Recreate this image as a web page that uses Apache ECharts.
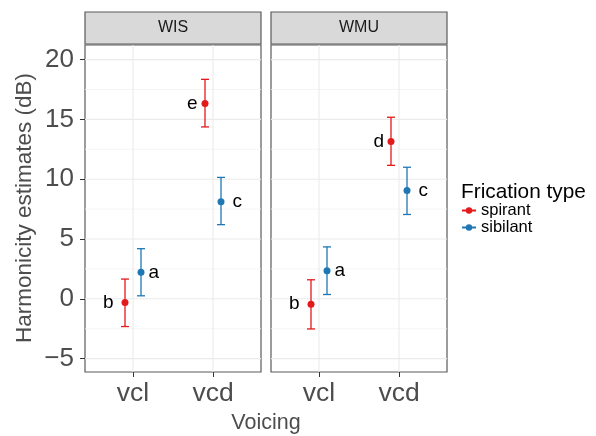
<!DOCTYPE html>
<html>
<head>
<meta charset="utf-8">
<script src="https://cdn.jsdelivr.net/npm/echarts@6/dist/echarts.min.js"></script>
<style>
  html, body { margin: 0; padding: 0; background: #fff; }
  #chart { width: 596px; height: 436px; }
</style>
</head>
<body>
<div id="chart"></div>
<script>
// Harmonicity estimates by voicing and frication type, faceted by group
const panels = ['WIS', 'WMU'];
const voicing = ['vcl', 'vcd'];
const fricationTypes = ['spirant', 'sibilant'];

// Estimates (dB) per voicing category, with lower / upper interval bounds
const wisSpirantMean = [-0.31, 16.33];
const wisSpirantLow = [-2.32, 14.37];
const wisSpirantHigh = [1.65, 18.35];
const wisSibilantMean = [2.21, 8.12];
const wisSibilantLow = [0.25, 6.20];
const wisSibilantHigh = [4.19, 10.15];

const wmuSpirantMean = [-0.45, 13.15];
const wmuSpirantLow = [-2.52, 11.16];
const wmuSpirantHigh = [1.59, 15.18];
const wmuSibilantMean = [2.35, 9.06];
const wmuSibilantLow = [0.36, 7.05];
const wmuSibilantHigh = [4.34, 11.00];

// Group letters from post-hoc comparisons
const wisSpirantLetters = ['b', 'e'];
const wisSibilantLetters = ['a', 'c'];
const wmuSpirantLetters = ['b', 'd'];
const wmuSibilantLetters = ['a', 'c'];

// Axis ticks
const yTicks = [-5, 0, 5, 10, 15, 20];
const yMinorTicks = [-2.5, 2.5, 7.5, 12.5, 17.5];
const xTicks = [1, 2];

const colors = { spirant: '#e31a1c', sibilant: '#1f78b4' };
const dodge = { spirant: -0.1, sibilant: 0.1 };
const letterGap = { a: 4, b: 8, c: 8, d: 3.5, e: 4 };
const FONT = 'Liberation Sans, Arial, sans-serif';
const Y_MIN = -6.12, Y_MAX = 21.22;

const panelData = [
  {
    spirant: { mean: wisSpirantMean, low: wisSpirantLow, high: wisSpirantHigh, letters: wisSpirantLetters },
    sibilant: { mean: wisSibilantMean, low: wisSibilantLow, high: wisSibilantHigh, letters: wisSibilantLetters }
  },
  {
    spirant: { mean: wmuSpirantMean, low: wmuSpirantLow, high: wmuSpirantHigh, letters: wmuSpirantLetters },
    sibilant: { mean: wmuSibilantMean, low: wmuSibilantLow, high: wmuSibilantHigh, letters: wmuSibilantLetters }
  }
];

const gridBoxes = [
  { left: 85, top: 45, width: 176, height: 327 },
  { left: 271, top: 45, width: 176, height: 327 }
];

const minus = v => (v < 0 ? '\u2212' + Math.abs(v) : String(v));

const grids = gridBoxes.map(b => ({
  left: b.left, top: b.top, width: b.width, height: b.height,
  show: true, backgroundColor: '#fff', borderColor: '#5a5a5a', borderWidth: 1.2,
  containLabel: false
}));

const xAxes = panels.map((p, i) => ({
  type: 'value', gridIndex: i, min: 0.4, max: 2.6, position: 'bottom',
  splitLine: { show: false },
  axisLine: { show: false, onZero: false },
  axisTick: { show: true, customValues: xTicks, length: 5, lineStyle: { color: '#333', width: 1 } },
  axisLabel: {
    show: true, customValues: xTicks, margin: 8,
    formatter: v => voicing[Math.round(v) - 1],
    fontSize: 26.5, color: '#4d4d4d', fontFamily: FONT
  }
}));

const yAxes = panels.map((p, i) => ({
  type: 'value', gridIndex: i, min: Y_MIN, max: Y_MAX, position: 'left',
  splitLine: { show: false },
  axisLine: { show: false, onZero: false },
  axisTick: { show: i === 0, customValues: yTicks, length: 5, lineStyle: { color: '#333', width: 1 } },
  axisLabel: {
    show: i === 0, customValues: yTicks, margin: 11,
    formatter: minus, fontSize: 26, color: '#4d4d4d', fontFamily: FONT
  }
}));

const series = [];

panels.forEach((p, i) => {
  // Panel grid lines: major and minor horizontals, major verticals
  series.push({
    type: 'custom', xAxisIndex: i, yAxisIndex: i, z: 1, silent: true,
    data: [[1, 0]],
    renderItem: (params, api) => {
      const cs = params.coordSys;
      const children = [];
      yMinorTicks.forEach(v => {
        const y = api.coord([1, v])[1];
        children.push({ type: 'line', shape: { x1: cs.x, y1: y, x2: cs.x + cs.width, y2: y },
          style: { stroke: '#f2f2f2', lineWidth: 0.8 } });
      });
      yTicks.forEach(v => {
        const y = api.coord([1, v])[1];
        children.push({ type: 'line', shape: { x1: cs.x, y1: y, x2: cs.x + cs.width, y2: y },
          style: { stroke: '#ebebeb', lineWidth: 1.1 } });
      });
      xTicks.forEach(v => {
        const x = api.coord([v, 0])[0];
        children.push({ type: 'line', shape: { x1: x, y1: cs.y, x2: x, y2: cs.y + cs.height },
          style: { stroke: '#ebebeb', lineWidth: 1.1 } });
      });
      return { type: 'group', children };
    }
  });

  fricationTypes.forEach(ft => {
    const d = panelData[i][ft];
    // Error bars
    series.push({
      type: 'custom', xAxisIndex: i, yAxisIndex: i, z: 3, silent: true,
      data: voicing.map((v, k) => [k + 1 + dodge[ft], d.low[k], d.high[k]]),
      renderItem: (params, api) => {
        const x = api.value(0);
        const lo = api.coord([x, api.value(1)]);
        const hi = api.coord([x, api.value(2)]);
        const cap = 4;
        const st = { stroke: colors[ft], lineWidth: 1.3 };
        return {
          type: 'group',
          children: [
            { type: 'line', shape: { x1: lo[0], y1: lo[1], x2: hi[0], y2: hi[1] }, style: st },
            { type: 'line', shape: { x1: lo[0] - cap, y1: lo[1], x2: lo[0] + cap, y2: lo[1] }, style: st },
            { type: 'line', shape: { x1: hi[0] - cap, y1: hi[1], x2: hi[0] + cap, y2: hi[1] }, style: st }
          ]
        };
      }
    });
    // Point estimates with letters
    series.push({
      type: 'scatter', name: ft, xAxisIndex: i, yAxisIndex: i, z: 4,
      symbol: 'circle', symbolSize: 7,
      itemStyle: { color: colors[ft], opacity: 1 },
      data: voicing.map((v, k) => ({
        value: [k + 1 + dodge[ft], d.mean[k]],
        label: { formatter: d.letters[k], distance: letterGap[d.letters[k]] }
      })),
      label: {
        show: true,
        position: ft === 'spirant' ? 'left' : 'right',
        fontSize: 19, color: '#000', fontFamily: FONT
      },
      emphasis: { disabled: true }
    });
  });
});

const option = {
  backgroundColor: '#fff',
  animation: false,
  grid: grids,
  xAxis: xAxes,
  yAxis: yAxes,
  legend: {
    data: fricationTypes.map(ft => ({
      name: ft,
      icon: 'path://M0,4.1H14V5.9H0Z M7,1.8A3.2,3.2 0 1 1 7,8.2A3.2,3.2 0 1 1 7,1.8Z',
      itemStyle: { color: colors[ft], borderWidth: 0 }
    })),
    orient: 'vertical',
    left: 462, top: 202,
    itemWidth: 14, itemHeight: 8, itemGap: 0,
    padding: 0,
    textStyle: { fontSize: 16.5, color: '#000', fontFamily: FONT, padding: [0, 0, 0, 0] },
    selectedMode: false
  },
  graphic: [
    // Facet strips
    ...panels.map((p, i) => ({
      type: 'group',
      children: [
        {
          type: 'rect',
          shape: { x: gridBoxes[i].left, y: 12, width: gridBoxes[i].width, height: 32 },
          style: { fill: '#d9d9d9', stroke: '#5a5a5a', lineWidth: 1.2 }
        },
        {
          type: 'text',
          x: gridBoxes[i].left + gridBoxes[i].width / 2, y: 28,
          style: { text: p, fontSize: 16, fill: '#1a1a1a', fontFamily: FONT, align: 'center', verticalAlign: 'middle' }
        }
      ]
    })),
    {
      type: 'text', x: 266, y: 423,
      style: { text: 'Voicing', fontSize: 21.5, fill: '#4d4d4d', fontFamily: FONT, align: 'center', verticalAlign: 'middle' }
    },
    {
      type: 'text', x: 25, y: 208, rotation: Math.PI / 2,
      style: { text: 'Harmonicity estimates (dB)', fontSize: 22.5, fill: '#4d4d4d', fontFamily: FONT, align: 'center', verticalAlign: 'middle' }
    },
    {
      type: 'text', x: 461, y: 192,
      style: { text: 'Frication type', fontSize: 20.8, fill: '#000', fontFamily: FONT, align: 'left', verticalAlign: 'middle' }
    }
  ],
  series: series
};

const chart = echarts.init(document.getElementById('chart'), null, { renderer: 'canvas' });
chart.setOption(option);
</script>
</body>
</html>
